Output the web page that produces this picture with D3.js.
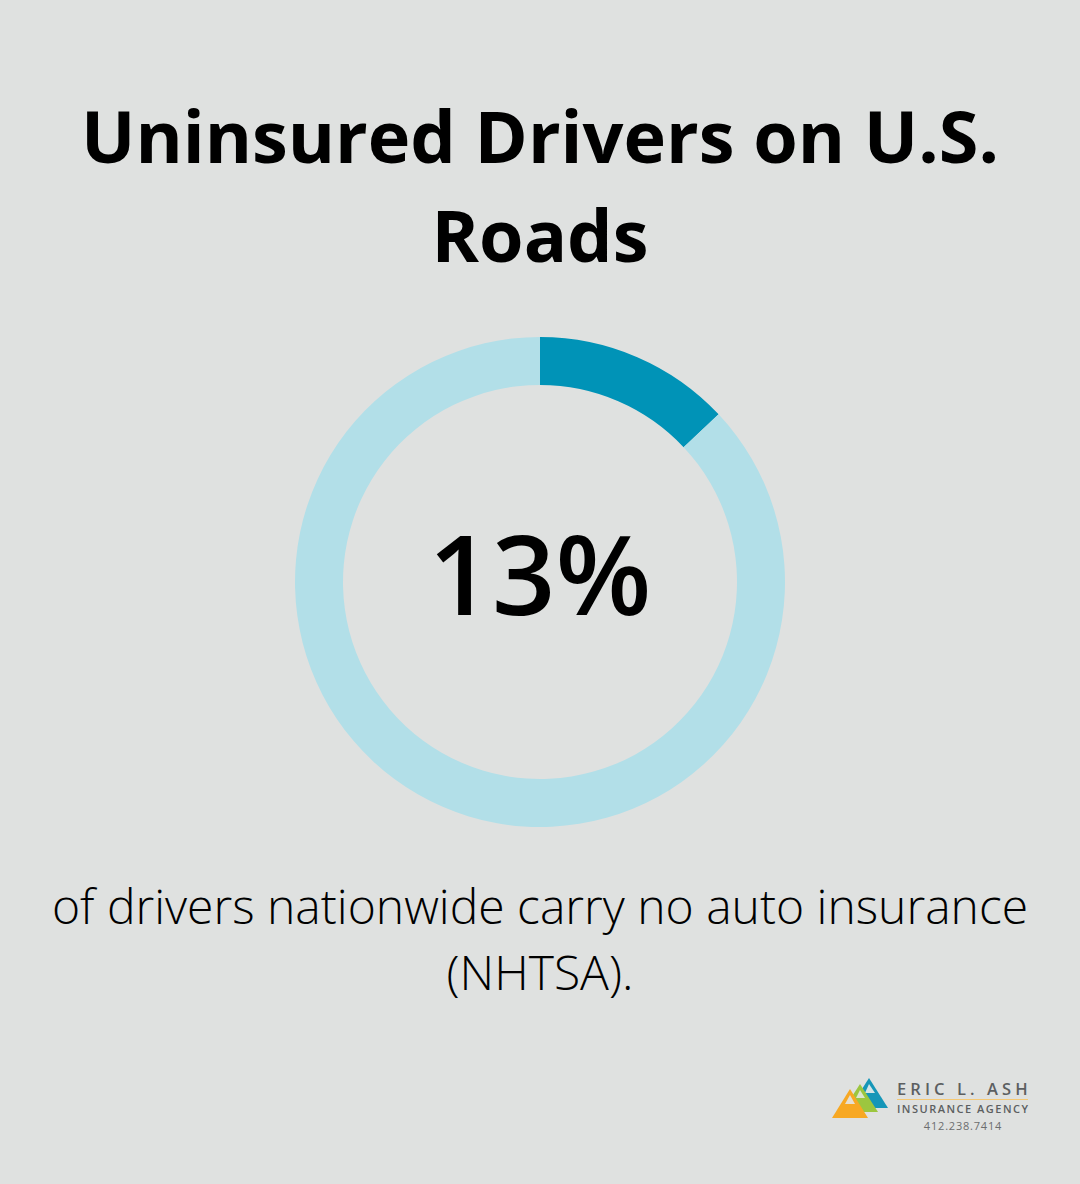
<!DOCTYPE html>
<html>
<head>
<meta charset="utf-8">
<script src="https://cdn.jsdelivr.net/npm/d3@7"></script>
<style>
html, body { margin: 0; padding: 0; background: #dfe1e0; }
text { font-family: "Open Sans", sans-serif; }
</style>
</head>
<body>
<div id="chart"></div>
<script>
var titleLines = ["Uninsured Drivers on U.S.", "Roads"]
var captionLines = ["of drivers nationwide carry no auto insurance", "(NHTSA)."]
var bigLabel = "13%"
var sliceNames = ["uninsured", "insured"]
var sliceValues = [13, 87]
var sliceColors = ["#0093b7", "#b2dfe8"]
var logoLines = ["ERIC L. ASH", "INSURANCE AGENCY", "412.238.7414"]

var svg = d3.select('#chart').append('svg')
	.attr('width', 1080)
	.attr('height', 1184)
	.style('display', 'block')

svg.selectAll('text.title')
	.data(titleLines)
	.enter().append('text')
		.attr('class', 'title')
		.attr('x', 540)
		.attr('y', function(d, i){ return 163 + i * 99 })
		.attr('text-anchor', 'middle')
		.style('font-size', '72px')
		.style('font-weight', 700)
		.style('fill', '#000')
		.text(function(d){ return d })

var pie = d3.pie().sort(null).value(function(d){ return d })
var arc = d3.arc().innerRadius(197).outerRadius(245)

var donut = svg.append('g').attr('transform', 'translate(540,582)')

donut.selectAll('path')
	.data(pie(sliceValues))
	.enter().append('path')
		.attr('d', arc)
		.style('fill', function(d, i){ return sliceColors[i] })

donut.append('text')
	.attr('y', 33)
	.attr('text-anchor', 'middle')
	.style('font-size', '111px')
	.style('font-weight', 600)
	.style('fill', '#000')
	.text(bigLabel)

svg.selectAll('text.caption')
	.data(captionLines)
	.enter().append('text')
		.attr('class', 'caption')
		.attr('x', 540)
		.attr('y', function(d, i){ return 924 + i * 66 })
		.attr('text-anchor', 'middle')
		.style('font-size', '48px')
		.style('font-weight', 300)
		.style('fill', '#000')
		.text(function(d){ return d })

// logo
var logo = svg.append('g')
var triangles = [
	{ pts: [[850,1108],[869,1078],[888,1108]], fill: '#1596b8' },
	{ pts: [[865,1093],[869,1084],[875,1093]], fill: '#d3e4e6' },
	{ pts: [[842,1112],[860,1084],[878,1112]], fill: '#9cc63f' },
	{ pts: [[856,1098],[860,1090],[865,1098]], fill: '#dde5cf' },
	{ pts: [[832,1118],[850,1089],[868,1118]], fill: '#f7a823' },
	{ pts: [[845,1104],[850,1095],[855,1104]], fill: '#e6dfd2' }
]
logo.selectAll('path')
	.data(triangles)
	.enter().append('path')
		.attr('d', function(d){ return d3.line()(d.pts) + 'Z' })
		.style('fill', function(d){ return d.fill })

logo.append('line')
	.attr('x1', 897).attr('x2', 1028)
	.attr('y1', 1099.5).attr('y2', 1099.5)
	.style('stroke', '#f5c873')
	.style('stroke-width', 1)

logo.append('text')
	.attr('x', 897).attr('y', 1095)
	.style('font-size', '16.5px')
	.style('font-weight', 600)
	.style('letter-spacing', '4.1px')
	.style('fill', '#5c5f61')
	.text(logoLines[0])

logo.append('text')
	.attr('x', 897).attr('y', 1113)
	.style('font-size', '11px')
	.style('font-weight', 600)
	.style('letter-spacing', '1.5px')
	.style('fill', '#5c5f61')
	.text(logoLines[1])

logo.append('text')
	.attr('x', 963).attr('y', 1130)
	.attr('text-anchor', 'middle')
	.style('font-size', '11px')
	.style('letter-spacing', '0.8px')
	.style('fill', '#6b6d6e')
	.text(logoLines[2])
</script>
</body>
</html>
